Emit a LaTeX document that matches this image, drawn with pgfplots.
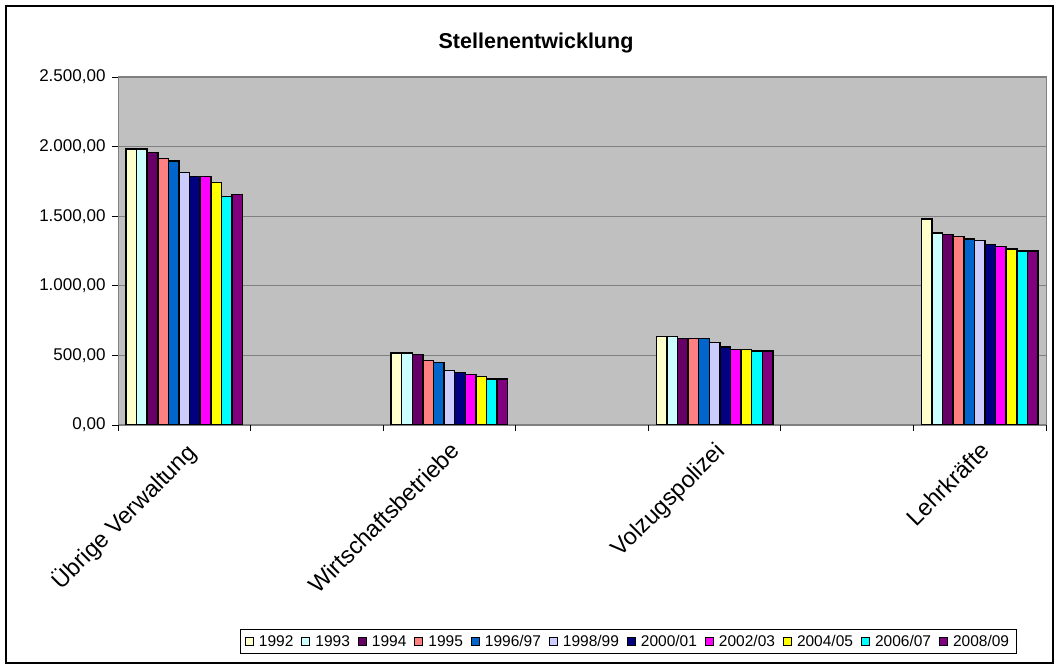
\documentclass[border=0pt]{standalone}
\usepackage{fontspec}
\setmainfont{Liberation Sans}
\usepackage{pgfplots}
\usepackage{pgfplotstable}
\pgfplotsset{compat=1.18}
\definecolor{c1}{HTML}{FFFFCC}
\definecolor{c2}{HTML}{CCFFFF}
\definecolor{c3}{HTML}{660066}
\definecolor{c4}{HTML}{FF8080}
\definecolor{c5}{HTML}{0066CC}
\definecolor{c6}{HTML}{CCCCFF}
\definecolor{c7}{HTML}{000080}
\definecolor{c8}{HTML}{FF00FF}
\definecolor{c9}{HTML}{FFFF00}
\definecolor{c10}{HTML}{00FFFF}
\definecolor{c11}{HTML}{800080}
\definecolor{plotbg}{HTML}{C0C0C0}
\definecolor{gridc}{HTML}{808080}
\pgfplotstableread{
x s1 s2 s3 s4 s5 s6 s7 s8 s9 s10 s11
0 1983 1983 1956 1916 1897 1815 1784 1784 1743 1640 1657
2 519 519 508 462 448 390 376 364 347 330 330
4 634 634 620 620 620 591 562 544 544 532 532
6 1480 1381 1367 1355 1336 1324 1298 1281 1264 1250 1250
}\data
\begin{document}
\begin{tikzpicture}[x=1pt,y=1pt]
\useasboundingbox (0,0) rectangle (1060,666);
\fill[white] (0,0) rectangle (1060,666);
\draw[line width=1.3pt] (6,3) rectangle (1053,660);
\node[font=\fontsize{21.5}{24}\selectfont\bfseries] at (536,623) {Stellenentwicklung};
\begin{axis}[
  at={(118pt,241pt)}, anchor=south west,
  scale only axis, width=928pt, height=348pt,
  axis background/.style={fill=plotbg},
  xmin=-0.5, xmax=6.5, ymin=0, ymax=2500,
  ybar=0pt, bar width=10.6pt,
  xtick={0,2,4,6},
  xticklabels={Übrige Verwaltung,Wirtschaftsbetriebe,Volzugspolizei,Lehrkräfte},
  major x tick style={draw=none},
  minor xtick={-0.5,0.5,1.5,2.5,3.5,4.5,5.5,6.5},
  minor x tick style={black, line width=0.8pt},
  minor tick length=6pt,
  xticklabel style={rotate=45, anchor=north east, font=\fontsize{23.5}{27}\selectfont, inner sep=1pt, yshift=-5pt, xshift=-6pt},
  ytick={0,500,1000,1500,2000,2500},
  ymajorgrids, grid style={gridc, line width=1.2pt},
  major tick length=6pt, tick align=outside,
  xtick pos=bottom, ytick pos=left,
  major y tick style={black, line width=0.8pt},
  axis line style={gridc, line width=1pt},
  yticklabel style={font=\fontsize{17}{20}\selectfont, xshift=-3pt, /pgf/number format/.cd, fixed, fixed zerofill, precision=2, use comma, 1000 sep={.}, assume math mode=true},
  every axis plot/.append style={draw=black, line width=1.5pt},
  legend columns=11,
  legend style={at={(0.5496,-0.622)}, anchor=center, draw=black, line width=0.8pt, font=\fontsize{15.5}{18}\selectfont, inner xsep=5pt, inner ysep=4pt,
    /tikz/every odd column/.append style={column sep=3pt},
    /tikz/every even column/.append style={column sep=6pt}},
  legend image code/.code={\draw[#1, line width=1pt] (0pt,-4pt) rectangle (8pt,4pt);},
]
\addplot[fill=c1] table[x=x,y=s1]{\data};
\addplot[fill=c2] table[x=x,y=s2]{\data};
\addplot[fill=c3] table[x=x,y=s3]{\data};
\addplot[fill=c4] table[x=x,y=s4]{\data};
\addplot[fill=c5] table[x=x,y=s5]{\data};
\addplot[fill=c6] table[x=x,y=s6]{\data};
\addplot[fill=c7] table[x=x,y=s7]{\data};
\addplot[fill=c8] table[x=x,y=s8]{\data};
\addplot[fill=c9] table[x=x,y=s9]{\data};
\addplot[fill=c10] table[x=x,y=s10]{\data};
\addplot[fill=c11] table[x=x,y=s11]{\data};
\legend{1992,1993,1994,1995,1996/97,1998/99,2000/01,2002/03,2004/05,2006/07,2008/09}
\end{axis}
\end{tikzpicture}
\end{document}
